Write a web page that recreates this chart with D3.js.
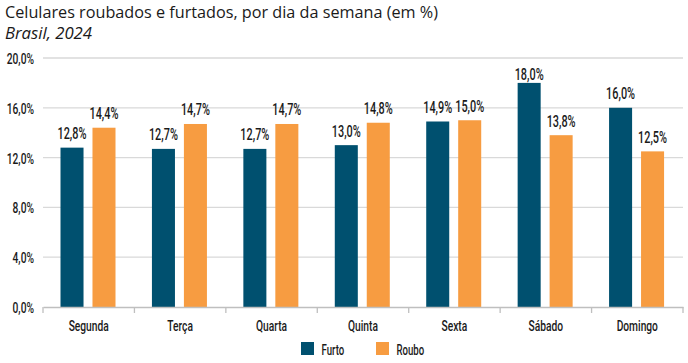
<!DOCTYPE html>
<html>
<head>
<meta charset="utf-8">
<script src="https://cdn.jsdelivr.net/npm/d3@7"></script>
<style>
  body { margin: 0; background: #fff; }
  svg { display: block; }
  .title { font-family: "Open Sans", "Noto Sans", sans-serif; fill: #1a1a1a; }
  .lbl { font-family: Roboto, "DejaVu Sans Condensed", sans-serif; fill: #1a1a1a; font-weight: 500; }
</style>
</head>
<body>
<svg id="chart" width="688" height="363"></svg>
<script>
var days = ["Segunda", "Terça", "Quarta", "Quinta", "Sexta", "Sábado", "Domingo"];
var furto = [12.8, 12.7, 12.7, 13.0, 14.9, 18.0, 16.0];
var roubo = [14.4, 14.7, 14.7, 14.8, 15.0, 13.8, 12.5];
var yTicks = [0, 4, 8, 12, 16, 20];
var seriesNames = ["Furto", "Roubo"];
var colors = ["#00506f", "#f79c41"];

var svg = d3.select("#chart");
var margin = {left: 43, right: 5, top: 58, bottom: 56};
var width = 688, height = 363;
var innerW = width - margin.left - margin.right;
var innerH = height - margin.top - margin.bottom;

var fmt = function(v){ return v.toFixed(1).replace(".", ",") + "%"; };

// squeeze text horizontally around its anchor x, the reference uses a condensed face
function condense(sel, k){
    sel.each(function(){
        var ax = +(d3.select(this).attr("x") || 0);
        d3.select(this).attr("transform",
            "translate(" + ax + ",0) scale(" + k + ",1) translate(" + (-ax) + ",0)");
    });
}

// title
svg.append("text").attr("class", "title")
    .attr("x", 5).attr("y", 18)
    .attr("font-size", 16.5)
    .attr("textLength", 433).attr("lengthAdjust", "spacingAndGlyphs")
    .text("Celulares roubados e furtados, por dia da semana (em %)");
svg.append("text").attr("class", "title")
    .attr("x", 5).attr("y", 39)
    .attr("font-size", 16.5)
    .attr("font-style", "italic")
    .attr("textLength", 87).attr("lengthAdjust", "spacingAndGlyphs")
    .text("Brasil, 2024");

var g = svg.append("g")
    .attr("transform", "translate(" + margin.left + "," + margin.top + ")");

var x = d3.scaleBand().domain(days).range([0, innerW]);
var xs = d3.scaleBand().domain(seriesNames).range([17.5, 17.5 + 55]).paddingInner(0.28);
var y = d3.scaleLinear().domain([0, 20]).range([innerH, 0]);

// gridlines
g.selectAll(".grid").data(yTicks.filter(function(d){ return d > 0; }))
    .enter().append("line")
    .attr("x1", 0).attr("x2", innerW)
    .attr("y1", function(d){ return y(d); })
    .attr("y2", function(d){ return y(d); })
    .attr("stroke", "#d9d9d9").attr("stroke-width", 1.3);

// y axis labels
var yAxis = d3.axisLeft(y).tickValues(yTicks).tickSize(0).tickPadding(9)
    .tickFormat(fmt);
var ya = g.append("g").call(yAxis);
ya.select(".domain").remove();
ya.selectAll("text").attr("class", "lbl").attr("font-size", 15.5)
    .attr("font-family", null).attr("fill", "#1a1a1a").attr("dy", "0.36em")
    .call(condense, 0.66);

var rows = days.map(function(d, i){
    return {day: d, values: [furto[i], roubo[i]]};
});

var grp = g.selectAll(".day").data(rows).enter().append("g")
    .attr("transform", function(d){ return "translate(" + x(d.day) + ",0)"; });

grp.selectAll("rect").data(function(d){ return d.values; })
    .enter().append("rect")
    .attr("x", function(d, i){ return xs(seriesNames[i]); })
    .attr("y", function(d){ return y(d); })
    .attr("width", xs.bandwidth())
    .attr("height", function(d){ return innerH - y(d); })
    .attr("fill", function(d, i){ return colors[i]; });

// value labels; keep them clear of the top gridline
grp.selectAll(".val").data(function(d){ return d.values; })
    .enter().append("text")
    .attr("class", "lbl")
    .attr("x", function(d, i){ return xs(seriesNames[i]) + xs.bandwidth() / 2; })
    .attr("y", function(d){ return Math.max(y(d) - 8.5, y(20) + 22); })
    .attr("text-anchor", "middle")
    .attr("font-size", 16)
    .text(fmt)
    .call(condense, 0.68);

// x axis
var xAxis = d3.axisBottom(x).tickSize(0).tickPadding(13);
var xa = g.append("g").attr("transform", "translate(0," + innerH + ")").call(xAxis);
xa.select(".domain").attr("stroke", "#bfbfbf").attr("stroke-width", 1.3);
xa.selectAll("text").attr("class", "lbl").attr("font-size", 15.5)
    .attr("font-family", null).attr("fill", "#1a1a1a")
    .call(condense, 0.66);
// category separators
xa.selectAll(".sep").data(days.concat(["end"])).enter().append("line")
    .attr("x1", function(d, i){ return i * x.bandwidth(); })
    .attr("x2", function(d, i){ return i * x.bandwidth(); })
    .attr("y1", 0).attr("y2", 6)
    .attr("stroke", "#bfbfbf").attr("stroke-width", 1.3);

// legend
var leg = svg.append("g").attr("transform", "translate(301,342)");
var li = leg.selectAll("g").data(seriesNames).enter().append("g")
    .attr("transform", function(d, i){ return "translate(" + (i * 75) + ",0)"; });
li.append("rect").attr("width", 13).attr("height", 13)
    .attr("fill", function(d, i){ return colors[i]; });
li.append("text").attr("class", "lbl")
    .attr("x", 20.5).attr("y", 12.5)
    .attr("font-size", 15.5)
    .text(function(d){ return d; })
    .call(condense, 0.62);
</script>
</body>
</html>
